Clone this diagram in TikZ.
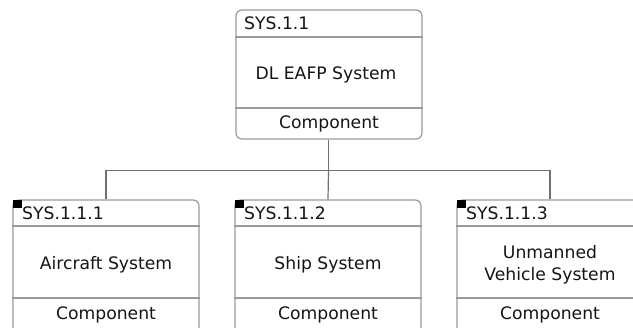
\documentclass[tikz,border=0pt]{standalone}
\usepackage{fontspec}
\setmainfont{DejaVu Sans}
\begin{document}
\begin{tikzpicture}[x=1pt,y=-1pt,
  boxframe/.style={draw=boxgray, line width=1.2pt, rounded corners=6pt, minimum width=186pt, minimum height=129pt, inner sep=0pt},
  sepline/.style={draw=boxgray, line width=1.2pt},
  conn/.style={draw=conngray, line width=1.2pt},
  idtext/.style={anchor=west, inner sep=0pt, font=\fontsize{17.2}{19}\selectfont, text=txt},
  nametext/.style={align=center, inner sep=0pt, font=\fontsize{17.2}{22.5}\selectfont, text=txt},
  stereo/.style={inner sep=0pt, font=\fontsize{17.2}{19}\selectfont, text=txt},
  marker/.style={fill=black, draw=none, minimum width=9pt, minimum height=8pt, inner sep=0pt, anchor=north west}]
\definecolor{boxgray}{HTML}{9A9A9A}
\definecolor{conngray}{HTML}{707070}
\definecolor{txt}{HTML}{141414}
\useasboundingbox (0,0) rectangle (633,328);
\clip (0,0) rectangle (633,328);
% top box
\node[boxframe] (t) at (329,74.5) {};
\draw[sepline] (t.west |- 0,37) -- (t.east |- 0,37);
\draw[sepline] (t.west |- 0,108) -- (t.east |- 0,108);
\node[idtext] (tid) at (244,23.5) {SYS.1.1};
\node[nametext] (tname) at (326,75) {DL EAFP System};
\node[stereo] (tst) at (329,124) {Component};
% bottom boxes
\node[boxframe, minimum height=136pt] (b1) at (106,268) {};
\node[boxframe, minimum height=136pt] (b2) at (328,268) {};
\node[boxframe, minimum height=136pt] (b3) at (550,268) {};
\foreach \b in {b1,b2,b3}{
  \draw[sepline] (\b.west |- 0,226) -- (\b.east |- 0,226);
  \draw[sepline] (\b.west |- 0,298) -- (\b.east |- 0,298);
}
\node[marker] (m1) at (b1.north west) {};
\node[marker] (m2) at (b2.north west) {};
\node[marker] (m3) at (b3.north west) {};
\node[idtext] (id1) at (22,213) {SYS.1.1.1};
\node[idtext] (id2) at (244,213) {SYS.1.1.2};
\node[idtext] (id3) at (466,213) {SYS.1.1.3};
\node[nametext] (n1) at (106,265) {Aircraft System};
\node[nametext] (n2) at (328,265) {Ship System};
\node[nametext] (n3) at (550,265) {Unmanned\\Vehicle System};
\node[stereo] (s1) at (106,315) {Component};
\node[stereo] (s2) at (328,315) {Component};
\node[stereo] (s3) at (550,315) {Component};
% connectors
\coordinate (bus) at (328.5,170.5);
\draw[conn] (t.south -| bus) -- (bus);
\draw[conn] (b1.north) |- (bus);
\draw[conn] (bus) -| (b3.north);
\draw[conn] (bus) -- (b2.north);
\end{tikzpicture}
\end{document}
